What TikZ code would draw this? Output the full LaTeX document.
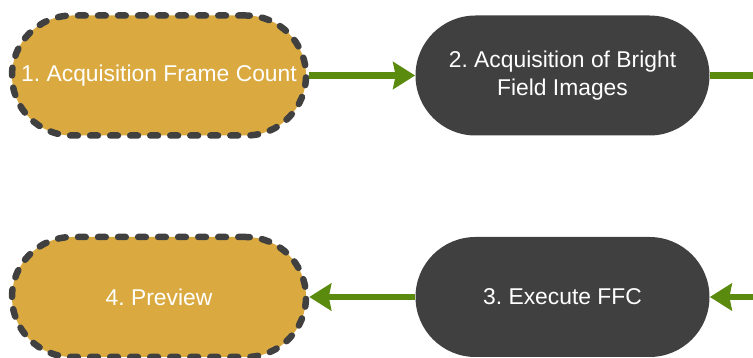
\documentclass[tikz,border=0pt]{standalone}
\usepackage{fontspec}
\setmainfont{Liberation Sans}
\usetikzlibrary{arrows.meta}

\definecolor{stepgold}{RGB}{218,170,65}
\definecolor{stepdark}{RGB}{64,64,64}
\definecolor{flowgreen}{RGB}{90,138,14}

\begin{document}
\frenchspacing
\begin{tikzpicture}[
    stepbase/.style={rectangle, rounded corners=1.2cm, minimum width=5.88cm,
        minimum height=2.4cm, align=center, text=white,
        font=\fontsize{13}{16.2}\selectfont},
    optstep/.style={stepbase, fill=stepgold, draw=stepdark, line width=0.13cm,
        dash pattern=on 4.4pt off 7pt, line cap=round},
    darkstep/.style={stepbase, fill=stepdark},
    flowline/.style={draw=flowgreen, line width=0.13cm},
    flow/.style={flowline, -{Stealth[length=0.44cm, width=0.54cm, inset=0.05cm]}}
]
\useasboundingbox (0,0) rectangle (15.06,7.16);

% Draw steps
\node[optstep] (acqcount) at (3.18,5.65) {1. Acquisition Frame Count};
\node[darkstep] (acqbright) at (11.25,5.65) {2. Acquisition of Bright\\Field Images};
\node[darkstep] (execffc) at (11.25,1.22) {3. Execute FFC};
\node[optstep] (preview) at (3.18,1.22) {4. Preview};

% Loose ends at the right border
\coordinate (rightout) at (15.06,5.65);
\coordinate (rightin) at (15.06,1.22);

% Draw connectors
\draw[flow] (acqcount) -- (acqbright);
\draw[flowline] (acqbright) -- (rightout);
\draw[flow] (rightin) -- (execffc);
\draw[flow] (execffc) -- (preview);

\end{tikzpicture}
\end{document}
